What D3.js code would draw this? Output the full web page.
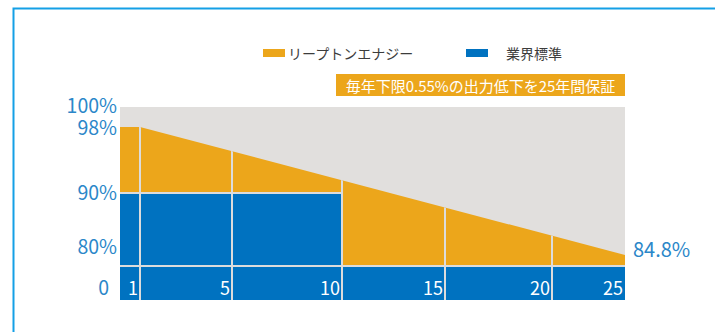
<!DOCTYPE html>
<html lang="ja">
<head>
<meta charset="utf-8">
<script src="https://cdn.jsdelivr.net/npm/d3@7/dist/d3.min.js"></script>
<style>
  html, body { margin: 0; padding: 0; background: #ffffff; }
  svg { display: block; font-family: "Noto Sans CJK JP", "Noto Sans", sans-serif; }
</style>
</head>
<body>
<svg id="chart" width="715" height="332"></svg>
<script>
// Output warranty data
const yearTicks = [1, 5, 10, 15, 20, 25];
const guaranteeYears = [0, 1, 25];
const guaranteeValues = [98, 98, 84.8];
const standardYears = [0, 10, 25];
const standardValues = [90, 80];
const yTicks = [100, 98, 90, 80, 0];
const yTickLabels = ["100%", "98%", "90%", "80%", "0"];
const seriesNames = ["リープトンエナジー", "業界標準"];
const noteText = "毎年下限0.55%の出力低下を25年間保証";
const endLabel = "84.8%";

const COLORS = { orange: "#eca61b", blue: "#0072c0", bg: "#e1dfdd", grid: "#dcdcdc", axis: "#2b87c9", frame: "#14a0e6" };

const svg = d3.select("#chart");

// Broken (piecewise) scales for the illustrative warranty chart
const x = d3.scaleLinear()
  .domain([0, 1, 5, 10, 15, 20, 25])
  .range([120, 140, 232, 342, 445, 552, 625]);
const y = d3.scaleLinear()
  .domain([0, 80, 84.8, 90, 98, 100])
  .range([300, 266, 255, 193, 127, 107]);

// Outer frame
svg.append("path")
  .attr("d", `M13.5,340 L13.5,8.5 L720,8.5`)
  .attr("fill", "none")
  .attr("stroke", COLORS.frame)
  .attr("stroke-width", 2);

// Plot background
svg.append("rect")
  .attr("x", x(0)).attr("y", y(100))
  .attr("width", x(25) - x(0)).attr("height", y(0) - y(100))
  .attr("fill", COLORS.bg);

// Guaranteed output area
const guarantee = guaranteeYears.map((t, i) => ({ t, v: guaranteeValues[i] }));
const area = d3.area()
  .x(d => x(d.t))
  .y0(y(0))
  .y1(d => y(d.v));

svg.append("clipPath").attr("id", "areaClip")
  .append("path").attr("d", area(guarantee));

svg.append("path")
  .attr("d", area(guarantee))
  .attr("fill", COLORS.orange);

// Industry standard steps
const steps = standardValues.map((v, i) => ({ t0: standardYears[i], t1: standardYears[i + 1], v }));
svg.append("g").selectAll("rect")
  .data(steps)
  .join("rect")
  .attr("x", d => x(d.t0))
  .attr("y", d => y(d.v))
  .attr("width", d => x(d.t1) - x(d.t0))
  .attr("height", d => y(0) - y(d.v))
  .attr("fill", COLORS.blue);

// Separator lines inside the filled area
const grid = svg.append("g").attr("clip-path", "url(#areaClip)")
  .attr("stroke", COLORS.grid).attr("stroke-width", 2);
grid.selectAll("line.v")
  .data(yearTicks.filter(t => t < 25))
  .join("line")
  .attr("class", "v")
  .attr("x1", d => x(d)).attr("x2", d => x(d))
  .attr("y1", y(100)).attr("y2", y(0));
grid.append("line")
  .attr("x1", x(0)).attr("x2", x(standardYears[1]))
  .attr("y1", y(standardValues[0])).attr("y2", y(standardValues[0]));
grid.append("line")
  .attr("x1", x(0)).attr("x2", x(25))
  .attr("y1", y(standardValues[1])).attr("y2", y(standardValues[1]));

// Year labels inside the bottom band
svg.append("g").selectAll("text")
  .data(yearTicks)
  .join("text")
  .attr("x", d => x(d) - 2)
  .attr("y", y(0) - 5)
  .attr("text-anchor", "end")
  .attr("font-size", 18)
  .attr("fill", "#ffffff")
  .text(d => d);

// Y axis labels (lower labels sit inside their bands)
const yNudge = { 100: -1.5, 98: 0.5, 80: -19, 0: -12 };
const xNudge = { 0: -8 };
svg.append("g").selectAll("text")
  .data(yTicks)
  .join("text")
  .attr("x", d => 117 + (xNudge[d] || 0))
  .attr("y", d => y(d) + (yNudge[d] || 0) + 7)
  .attr("text-anchor", "end")
  .attr("font-size", 19.5)
  .attr("fill", COLORS.axis)
  .text((d, i) => yTickLabels[i]);

// End value label
svg.append("text")
  .attr("x", x(25) + 8)
  .attr("y", y(guaranteeValues[guaranteeValues.length - 1]) + 2)
  .attr("font-size", 20)
  .attr("fill", COLORS.axis)
  .text(endLabel);

// Legend
const legend = svg.append("g");
const legendItems = [
  { name: seriesNames[0], color: COLORS.orange, sx: 263, tx: 288 },
  { name: seriesNames[1], color: COLORS.blue, sx: 466, tx: 506 }
];
legend.selectAll("rect")
  .data(legendItems)
  .join("rect")
  .attr("x", d => d.sx).attr("y", 49)
  .attr("width", 22).attr("height", 8)
  .attr("fill", d => d.color);
legend.selectAll("text")
  .data(legendItems)
  .join("text")
  .attr("x", d => d.tx).attr("y", 53)
  .attr("dominant-baseline", "central")
  .attr("font-size", 14)
  .attr("fill", "#3c3c3c")
  .text(d => d.name);

// Warranty note
svg.append("rect")
  .attr("x", 336).attr("y", 74)
  .attr("width", x(25) - 336).attr("height", 22)
  .attr("fill", COLORS.orange);
svg.append("text")
  .attr("x", (336 + x(25)) / 2).attr("y", 85)
  .attr("text-anchor", "middle")
  .attr("dominant-baseline", "central")
  .attr("font-size", 15)
  .attr("fill", "#ffffff")
  .text(noteText);
</script>
</body>
</html>
